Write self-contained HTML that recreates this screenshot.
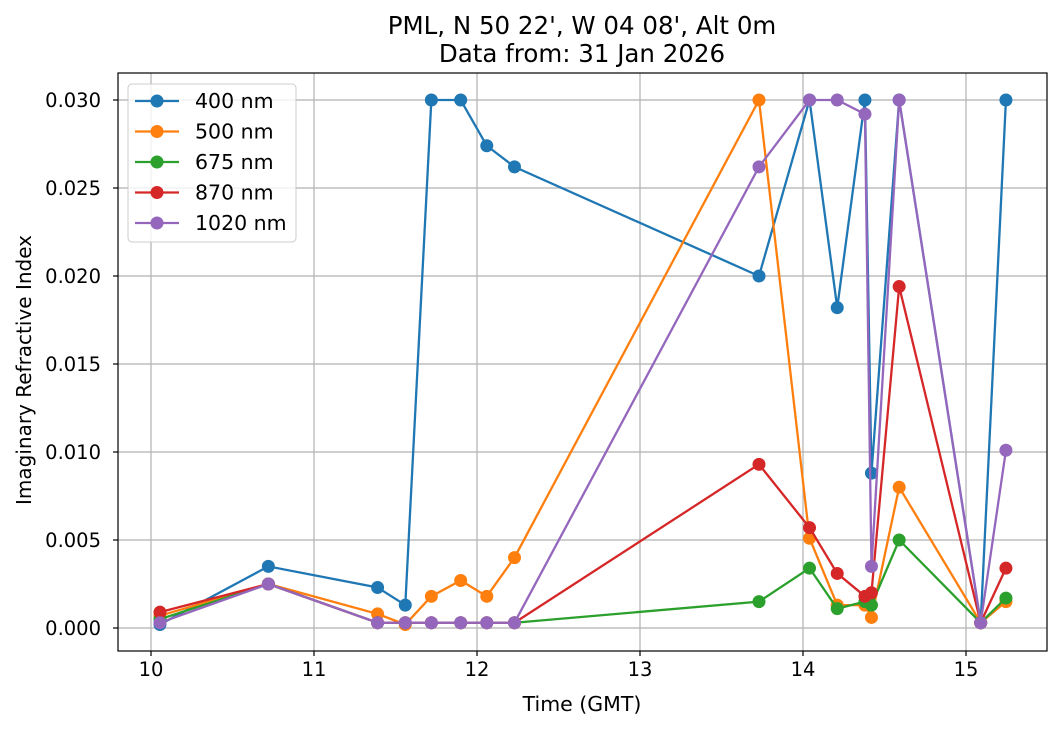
<!DOCTYPE html>
<html><head><meta charset="utf-8"><style>
body{margin:0;background:#fff;}
svg text{font-family:"DejaVu Sans","Liberation Sans",sans-serif;fill:#000;}
</style></head><body>
<svg id="chart" width="1062" height="729" xmlns="http://www.w3.org/2000/svg">
<rect width="1062" height="729" fill="#fff"/>
<g id="grid"></g>
<g id="series"></g>
<g id="axes"></g>
<text x="582" y="34" text-anchor="middle" font-size="24.5">PML, N 50 22', W 04 08', Alt 0m</text>
<text x="582" y="62" text-anchor="middle" font-size="24.5">Data from: 31 Jan 2026</text>
<text x="582" y="711" text-anchor="middle" font-size="20.5">Time (GMT)</text>
<text transform="translate(31,370) rotate(-90)" text-anchor="middle" font-size="20">Imaginary Refractive Index</text>
<g id="legend"></g>
</svg>
<script>
const times=[10.055,10.72,11.39,11.56,11.72,11.90,12.06,12.23,13.73,14.04,14.21,14.38,14.42,14.59,15.09,15.245];
const s400=[0.0002,0.0035,0.0023,0.0013,0.030,0.030,0.0274,0.0262,0.0200,0.030,0.0182,0.030,0.0088,0.030,0.0003,0.030];
const s500=[0.0007,0.0025,0.0008,0.0002,0.0018,0.0027,0.0018,0.0040,0.030,0.0051,0.0013,0.0013,0.0006,0.0080,0.0003,0.0015];
const s675=[0.0005,0.0025,0.0003,0.0003,0.0003,0.0003,0.0003,0.0003,0.0015,0.0034,0.0011,0.0015,0.0013,0.0050,0.0003,0.0017];
const s870=[0.0009,0.0025,0.0003,0.0003,0.0003,0.0003,0.0003,0.0003,0.0093,0.0057,0.0031,0.0018,0.0020,0.0194,0.0003,0.0034];
const s1020=[0.0003,0.0025,0.0003,0.0003,0.0003,0.0003,0.0003,0.0003,0.0262,0.030,0.030,0.0292,0.0035,0.030,0.0003,0.0101];
const seriesNames=["400 nm","500 nm","675 nm","870 nm","1020 nm"];
const seriesColors=["#1f77b4","#ff7f0e","#2ca02c","#d62728","#9467bd"];
const xTicks=[10,11,12,13,14,15];
const yTicks=[0,0.005,0.010,0.015,0.020,0.025,0.030];
const yTickLabels=["0.000","0.005","0.010","0.015","0.020","0.025","0.030"];

const L=118,R=1047,T=73,B=651;
const X=v=>151+(v-10)*163;
const Y=v=>628-v*17600;
const NS="http://www.w3.org/2000/svg";
function mk(tag,attrs,parent){const e=document.createElementNS(NS,tag);for(const k in attrs)e.setAttribute(k,attrs[k]);parent.appendChild(e);return e;}
const grid=document.getElementById('grid'),axes=document.getElementById('axes'),ser=document.getElementById('series'),leg=document.getElementById('legend');
xTicks.forEach(t=>{
  const g=mk('line',{x1:X(t),x2:X(t),y1:T,y2:B,stroke:'#b0b0b0','stroke-width':1.2},grid);
  
  
  mk('line',{x1:X(t),x2:X(t),y1:B,y2:B+5,stroke:'#000','stroke-width':1.2},axes);
  const tx=mk('text',{x:X(t),y:B+25,'text-anchor':'middle','font-size':19.5},axes);
  tx.textContent=t;
  
  
});
yTicks.forEach((t,i)=>{
  const g=mk('line',{x1:L,x2:R,y1:Y(t),y2:Y(t),stroke:'#b0b0b0','stroke-width':1.2},grid);
  
  
  mk('line',{x1:L-5,x2:L,y1:Y(t),y2:Y(t),stroke:'#000','stroke-width':1.2},axes);
  const tx=mk('text',{x:L-17,y:Y(t)+7,'text-anchor':'end','font-size':19.5},axes);
  tx.textContent=yTickLabels[i];
  
  
});
const frame=mk('rect',{x:L,y:T,width:R-L,height:B-T,fill:'none',stroke:'#000','stroke-width':1.2},axes);


[s400,s500,s675,s870,s1020].forEach((vals,si)=>{
  const g=mk('g',{},ser);
  
  
  const pts=vals.map((v,i)=>X(times[i])+','+Y(v)).join(' ');
  mk('polyline',{points:pts,fill:'none',stroke:seriesColors[si],'stroke-width':2.3},g);
  vals.forEach((v,i)=>{
    const c=mk('circle',{cx:X(times[i]),cy:Y(v),r:6.5,fill:seriesColors[si]},g);
    
    
  });
});
const lb=mk('rect',{x:128,y:84,width:168,height:158,rx:4,fill:'#fff','fill-opacity':0.8,stroke:'#cccccc','stroke-width':1},leg);


seriesNames.forEach((n,i)=>{
  const y=101+i*30.5;
  const g=mk('g',{},leg);
  
  
  mk('line',{x1:135,x2:179,y1:y,y2:y,stroke:seriesColors[i],'stroke-width':2.3},g);
  mk('circle',{cx:157,cy:y,r:6.5,fill:seriesColors[i]},g);
  const t=mk('text',{x:195,y:y+7,'font-size':20.5},g);
  t.textContent=n;
});
</script>
</body></html>
